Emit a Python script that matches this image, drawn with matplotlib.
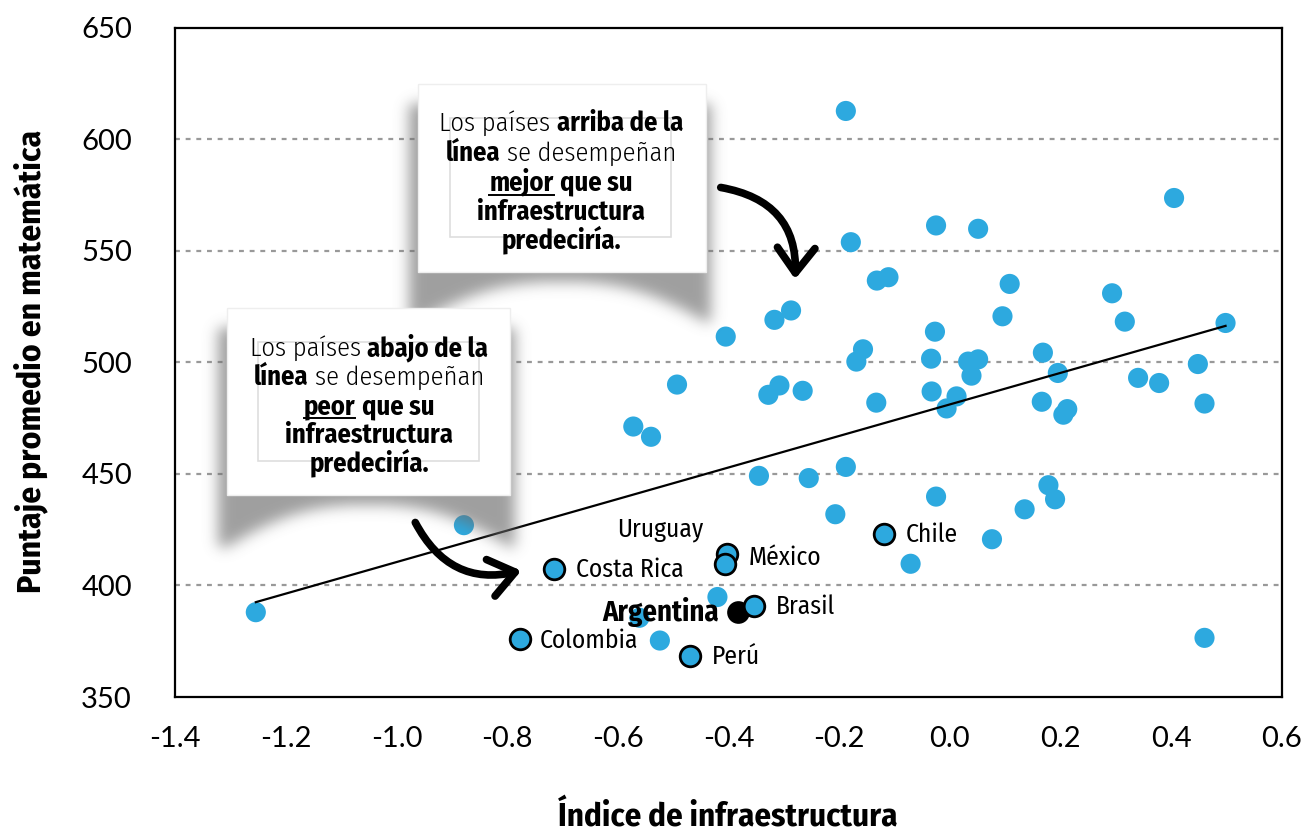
import numpy as np
import matplotlib
matplotlib.use('Agg')
import matplotlib.pyplot as plt
from matplotlib import font_manager as fm
from matplotlib.font_manager import FontProperties
from matplotlib.patches import Rectangle, FancyArrowPatch

# ---------------- data ----------------
other_x = [-1.254, -0.878, -0.561, -0.524, -0.420, -0.188, -0.179, -0.025, 0.051, 0.405,
           -0.132, -0.111, -0.287, -0.317, -0.405, -0.493, -0.572, -0.540, -0.328, -0.308,
           -0.266, -0.157, -0.169, -0.133, -0.027, -0.034, -0.033, 0.108, 0.095, 0.293,
           0.316, 0.498, 0.033, 0.051, 0.039, 0.012, -0.006, 0.168, 0.195, 0.166,
           0.212, 0.205, 0.340, 0.378, 0.448, 0.460, -0.345, -0.255, -0.188, -0.207,
           -0.025, 0.178, 0.190, 0.135, 0.076, -0.071, 0.460]
other_y = [388.0, 427.0, 385.5, 375.3, 394.8, 612.6, 553.8, 561.3, 559.8, 573.6,
           536.6, 538.1, 523.2, 519.0, 511.5, 490.0, 471.2, 466.6, 485.4, 489.6,
           487.2, 505.8, 500.3, 481.9, 513.7, 501.6, 486.9, 535.1, 520.6, 530.9,
           518.2, 517.6, 500.3, 501.3, 494.0, 484.7, 479.3, 504.3, 495.2, 482.3,
           479.0, 476.5, 493.0, 490.7, 499.2, 481.5, 449.1, 448.1, 453.1, 431.9,
           439.8, 444.9, 438.6, 434.1, 420.7, 409.7, 376.5]

lab_names = ["Costa Rica", "Colombia", "Perú", "Brasil", "Uruguay", "México", "Chile"]
lab_x = [-0.715, -0.777, -0.470, -0.354, -0.402, -0.406, -0.119]
lab_y = [407.2, 376.2, 368.3, 391.0, 414.2, 409.4, 422.9]

arg_name = "Argentina"
arg_x = [-0.383]
arg_y = [388.0]

trend_x = [-1.254, 0.498]
trend_y = [392.5, 516.3]

yticks = [350, 400, 450, 500, 550, 600, 650]
xticks = [-1.4, -1.2, -1.0, -0.8, -0.6, -0.4, -0.2, 0.0, 0.2, 0.4, 0.6]

box1_lines = [
    [("Los países", False, False), ("arriba de la", True, False)],
    [("línea", True, False), ("se desempeñan", False, False)],
    [("mejor", True, True), ("que su", True, False)],
    [("infraestructura", True, False)],
    [("predeciría.", True, False)],
]
box2_lines = [
    [("Los países", False, False), ("abajo de la", True, False)],
    [("línea", True, False), ("se desempeñan", False, False)],
    [("peor", True, True), ("que su", True, False)],
    [("infraestructura", True, False)],
    [("predeciría.", True, False)],
]

# ---------------- fonts ----------------
names = {f.name for f in fm.fontManager.ttflist}
TICKF = 'Lato' if 'Lato' in names else 'DejaVu Sans'


def wnum(w):
    if isinstance(w, (int, float)):
        return float(w)
    return {'ultralight': 200, 'light': 300, 'normal': 400, 'regular': 400, 'book': 400,
            'medium': 500, 'semibold': 600, 'demibold': 600, 'bold': 700, 'heavy': 800,
            'extra bold': 800, 'black': 900}.get(str(w), 400)


def is_cond(f):
    fn = f.fname.split('/')[-1].lower()
    return (str(f.stretch) in ('condensed', 'semi-condensed', 'extra-condensed')
            or 'condensed' in fn or 'narrow' in fn or 'cond' in fn)


groups = {}
for f in fm.fontManager.ttflist:
    fn = f.fname.split('/')[-1]
    if '[' in fn or f.style != 'normal' or 'CJK' in f.name:
        continue
    if not is_cond(f):
        continue
    if 'semicondensed' in fn.lower() or 'extracondensed' in fn.lower() or 'semi' in str(f.stretch) or 'extra' in str(f.stretch):
        continue
    groups.setdefault(f.name, []).append(f)


def usable(g):
    ws = {}
    for f in g:
        ws.setdefault(wnum(f.weight), f.fname)
    lows = [w for w in ws if w <= 400]
    highs = [w for w in ws if w >= 700]
    return bool(lows) and bool(highs) and ws[min(lows, key=lambda w: abs(w - 400))] != ws[min(highs, key=lambda w: abs(w - 700))]


order = ['Open Sans Condensed', 'Open Sans', 'Noto Sans', 'Noto Sans Condensed',
         'Fira Sans Condensed', 'IBM Plex Sans Condensed', 'Roboto Condensed',
         'Encode Sans Condensed', 'Archivo Narrow', 'Liberation Sans Narrow']
COND = None
for c in order:
    if c in groups and usable(groups[c]):
        COND = c
        break
if COND is None:
    for c, g in sorted(groups.items()):
        if usable(g):
            COND = c
            break


def pick(weight):
    if COND is None:
        return FontProperties(family='DejaVu Sans', weight=weight)
    best = min(groups[COND], key=lambda f: (abs(wnum(f.weight) - weight), f.fname))
    return FontProperties(fname=best.fname)


FP_LIGHT = pick(300)
FP_REG = pick(400)
FP_BOLD = pick(700)


def fp(base, size):
    p = base.copy()
    p.set_size(size)
    return p


W, H = 1306, 833
fig = plt.figure(figsize=(W / 100, H / 100), dpi=100)
fig.patch.set_facecolor('white')
renderer = fig.canvas.get_renderer()


def tw(s, prop):
    t = fig.text(0, 0, s, fontproperties=prop)
    w = t.get_window_extent(renderer).width
    t.remove()
    return w


def fit(s, base, target):
    return 20.0 * target / tw(s, fp(base, 20))


L, R, T, B = 175, 1282, 27.5, 697
ax = fig.add_axes([L / W, 1 - B / H, (R - L) / W, (B - T) / H])
ax.set_xlim(-1.4, 0.6)
ax.set_ylim(350, 650)
ax.set_xticks(xticks)
ax.set_xticklabels([f"{v:.1f}" for v in xticks], fontfamily=TICKF)
ax.set_yticks(yticks)
ax.set_yticklabels([str(v) for v in yticks], fontfamily=TICKF)
ax.tick_params(axis='both', length=0, labelsize=21)
ax.tick_params(axis='y', pad=31)
ax.tick_params(axis='x', pad=21)
for s in ax.spines.values():
    s.set_linewidth(1.6)
    s.set_color('black')
for gy in yticks[1:-1]:
    ax.axhline(gy, color='#999999', lw=1.6, ls=(0, (2.2, 2.6)), zorder=1)

BLUE = '#2DA9DF'
ax.scatter(other_x, other_y, s=210, c=BLUE, edgecolors='none', zorder=3)
ax.scatter(arg_x, arg_y, s=220, c='black', edgecolors='black', linewidths=1.5, zorder=3.5)
ax.scatter(lab_x, lab_y, s=220, c=BLUE, edgecolors='black', linewidths=2.0, zorder=4)
ax.plot(trend_x, trend_y, color='black', lw=1.6, zorder=5)

# country labels: offsets in pixels (dx, cap-centre dy up, ha)
lab_size = fit("Costa Rica", FP_REG, 108)
arg_size = fit("Argentina", FP_BOLD, 117)
offsets = {
    "Costa Rica": (22, 1, 'left'),
    "Colombia": (20, 0, 'left'),
    "Perú": (22, 1, 'left'),
    "Brasil": (22, 1, 'left'),
    "Uruguay": (-67, 26, 'center'),
    "México": (23, 9, 'left'),
    "Chile": (22, 1.5, 'left'),
}
PT = 0.72  # points per pixel at dpi 100
for n, x, y in zip(lab_names, lab_x, lab_y):
    dx, dy, ha = offsets[n]
    cap = 0.714 * lab_size  # points
    ax.annotate(n, (x, y), xytext=(dx * PT, dy * PT - cap / 2), textcoords='offset points',
                ha=ha, va='baseline', fontproperties=fp(FP_REG, lab_size), zorder=6)
cap = 0.714 * arg_size
ax.annotate(arg_name, (arg_x[0], arg_y[0]), xytext=(-19 * PT, 1 * PT - cap / 2),
            textcoords='offset points', ha='right', va='baseline',
            fontproperties=fp(FP_BOLD, arg_size), zorder=6)

ylab = "Puntaje promedio en matemática"
xlab = "Índice de infraestructura"
ysz = fit(ylab, FP_BOLD, 464)
xsz = fit(xlab, FP_BOLD, 340)
fig.text(31 / W, 1 - 361 / H, ylab, rotation=90, ha='center', va='center',
         fontproperties=fp(FP_BOLD, ysz))
fig.text(728 / W, 1 - 825 / H, xlab, ha='center', va='baseline',
         fontproperties=fp(FP_BOLD, xsz))

# ---------------- overlay for callouts ----------------
ov = fig.add_axes([0, 0, 1, 1])
ov.set_zorder(10)
ov.patch.set_alpha(0)
ov.axis('off')


def blur(a, s):
    r = int(3 * s)
    k = np.exp(-0.5 * (np.arange(-r, r + 1) / s) ** 2)
    k /= k.sum()
    a = np.apply_along_axis(lambda v: np.convolve(v, k, mode='same'), 0, a)
    a = np.apply_along_axis(lambda v: np.convolve(v, k, mode='same'), 1, a)
    return a


def shadow(x0, y0, x1, y1, deep):
    pad = 45
    X0, X1, Y0, Y1 = x0 - pad, x1 + pad, y0 - pad, y1 + 90
    xs = np.arange(int(X1 - X0)) + X0 + 0.5
    ys = np.arange(int(Y1 - Y0)) + Y0 + 0.5
    XX, YY = np.meshgrid(xs, ys)
    t = np.clip((XX - x0) / (x1 - x0), 0, 1)
    depth = 10 + deep * (1 - np.sin(np.pi * t)) ** 1.3
    m = ((XX >= x0 - 9) & (XX <= x1 + 5) & (YY >= y0 + 20) & (YY <= y1 + depth)).astype(float)
    m = blur(m, 7)
    rgba = np.zeros(m.shape + (4,))
    rgba[..., :3] = 0.42
    rgba[..., 3] = np.clip(m * 0.65, 0, 1)
    ov.imshow(rgba, extent=(X0, X1, Y1, Y0), interpolation='bilinear', zorder=1, aspect='auto')


def rich_line(xc, yb, segs, size):
    objs, ws = [], []
    for txt, bold, ul in segs:
        prop = fp(FP_BOLD if bold else FP_LIGHT, size)
        t = ov.text(0, yb, txt, fontproperties=prop, ha='left', va='baseline', zorder=5)
        objs.append(t)
        ws.append(t.get_window_extent(renderer).width)
    sp = tw("a a", fp(FP_LIGHT, size)) - tw("aa", fp(FP_LIGHT, size))
    total = sum(ws) + sp * (len(ws) - 1)
    x = xc - total / 2
    for (txt, bold, ul), t, w in zip(segs, objs, ws):
        t.set_x(x)
        if ul:
            ov.plot([x, x + w], [yb + 4, yb + 4], color='black', lw=1.4, zorder=5)
        x += w + sp


def line_width(segs, size):
    ws = [tw(txt, fp(FP_BOLD if b else FP_LIGHT, size)) for txt, b, u in segs]
    sp = tw("a a", fp(FP_LIGHT, size)) - tw("aa", fp(FP_LIGHT, size))
    return sum(ws) + sp * (len(ws) - 1)


# size: compromise between widest line (235 px) and the bold "infraestructura" (175 px)
s1 = 20.0 * 235.0 / line_width(box1_lines[0], 20.0)
s2 = 20.0 * 175.0 / line_width(box1_lines[3], 20.0)
box_size = min(s2, max(s1, 0.5 * (s1 + s2)), 20.0 * 262.0 / line_width(box1_lines[0], 20.0))


def callout(x0, y0, x1, y1, inner, lines, xc, baselines, deep):
    shadow(x0, y0, x1, y1, deep)
    ov.add_patch(Rectangle((x0, y0), x1 - x0, y1 - y0, fc='white', ec='#eeeeee', lw=1, zorder=2))
    ix0, iy0, ix1, iy1 = inner
    ov.add_patch(Rectangle((ix0, iy0), ix1 - ix0, iy1 - iy0, fill=False, ec='#dedede', lw=1.2, zorder=3))
    for segs, yb in zip(lines, baselines):
        rich_line(xc, yb, segs, box_size)


callout(418, 84, 706, 272, (450, 118, 671, 237), box1_lines, 561,
        [131, 161, 190.5, 219.5, 248.5], 40)
callout(227, 308, 510, 495, (258, 342, 479, 461), box2_lines, 369,
        [356, 385, 414, 442.5, 471.5], 42)

ov.add_patch(FancyArrowPatch((718, 187), (795, 282), connectionstyle="arc3,rad=-0.45",
                             arrowstyle="->,head_length=0.6,head_width=0.45", mutation_scale=30,
                             lw=5.5, color='black', capstyle='round', joinstyle='round', zorder=6))
ov.add_patch(FancyArrowPatch((414, 520), (524, 570), connectionstyle="arc3,rad=0.4",
                             arrowstyle="->,head_length=0.6,head_width=0.45", mutation_scale=30,
                             lw=5.5, color='black', capstyle='round', joinstyle='round', zorder=6))

ov.set_xlim(0, W)
ov.set_ylim(H, 0)

fig.savefig('out.png', dpi=100, facecolor='white')
